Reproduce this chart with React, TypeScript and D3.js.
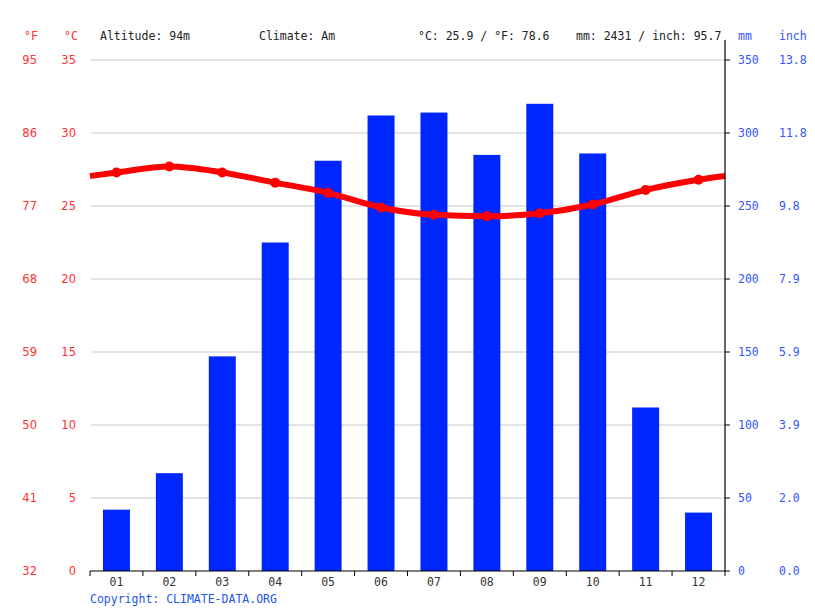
import React from 'react';
import * as d3 from 'd3';

const MONTHS = ['01', '02', '03', '04', '05', '06', '07', '08', '09', '10', '11', '12'];
const PRECIP_MM = [42, 67, 147, 225, 281, 312, 314, 285, 320, 286, 112, 40];
const TEMP_C = [27.3, 27.7, 27.3, 26.6, 25.9, 24.9, 24.4, 24.3, 24.5, 25.1, 26.1, 26.8];
const C_TICKS = [0, 5, 10, 15, 20, 25, 30, 35];
const F_LABELS = ['32', '41', '50', '59', '68', '77', '86', '95'];
const MM_TICKS = [0, 50, 100, 150, 200, 250, 300, 350];
const INCH_LABELS = ['0.0', '2.0', '3.9', '5.9', '7.9', '9.8', '11.8', '13.8'];

const W = 815;
const H = 611;
const M = { left: 90, right: 725, top: 60, bottom: 571 };
const MONO = '"DejaVu Sans Mono", monospace';
const SANS = '"DejaVu Sans", sans-serif';
const RED = '#ff0000';
const LRED = '#ff3030';
const BLUE = '#0026ff';
const LBLUE = '#3355ff';

export default function App() {
  const x = d3.scaleBand<string>().domain(MONTHS).range([M.left, M.right]).paddingInner(0).paddingOuter(0);
  const yC = d3.scaleLinear().domain([0, 35]).range([M.bottom, M.top]);
  const yMM = d3.scaleLinear().domain([0, 350]).range([M.bottom, M.top]);
  const bw = x.bandwidth() * 0.51;
  const cx = (m: string) => (x(m) as number) + x.bandwidth() / 2;

  // line runs out to the plot edges, edge value = mean of Dec and Jan
  const edge = (TEMP_C[0] + TEMP_C[11]) / 2;
  const pts: [number, number][] = [
    [M.left, yC(edge)],
    ...MONTHS.map((m, i) => [cx(m), yC(TEMP_C[i])] as [number, number]),
    [M.right, yC(edge)],
  ];
  const line = d3.line().curve(d3.curveMonotoneX)(pts) as string;

  return (
    <svg width={W} height={H} style={{ position: 'absolute', left: 0, top: 0, background: '#fff' }}>
      {/* grid */}
      {C_TICKS.slice(1).map(t => (
        <line key={t} x1={M.left + 1} x2={M.right} y1={yC(t)} y2={yC(t)} stroke="#c8c8c8" strokeWidth={1} />
      ))}

      {/* header */}
      <g fontFamily={MONO} fontSize={11.5}>
        <text x={24} y={40} fill={LRED}>°F</text>
        <text x={64} y={40} fill={LRED}>°C</text>
        <text x={100} y={40} fill="#222">Altitude: 94m</text>
        <text x={259} y={40} fill="#222">Climate: Am</text>
        <text x={418} y={40} fill="#222">°C: 25.9 / °F: 78.6</text>
        <text x={576} y={40} fill="#222">mm: 2431 / inch: 95.7</text>
        <text x={738} y={40} fill={LBLUE}>mm</text>
        <text x={779} y={40} fill={LBLUE}>inch</text>
      </g>

      {/* left labels */}
      <g fontFamily={SANS} fontSize={11.5} fill={LRED} textAnchor="end">
        {C_TICKS.map((t, i) => (
          <React.Fragment key={t}>
            <text x={37} y={yC(t) + 4}>{F_LABELS[i]}</text>
            <text x={76} y={yC(t) + 4}>{t}</text>
          </React.Fragment>
        ))}
      </g>

      {/* bars */}
      {MONTHS.map((m, i) => (
        <rect key={m} x={cx(m) - bw / 2} y={yMM(PRECIP_MM[i])} width={bw}
          height={M.bottom - yMM(PRECIP_MM[i])} fill={BLUE} />
      ))}

      {/* temperature */}
      <path d={line} fill="none" stroke={RED} strokeWidth={6} strokeLinejoin="round" />
      {MONTHS.map((m, i) => (
        <circle key={m} cx={cx(m)} cy={yC(TEMP_C[i])} r={5} fill={RED} />
      ))}

      {/* right axis */}
      <line x1={M.right} x2={M.right} y1={40} y2={M.bottom} stroke="#000" strokeWidth={1.2} />
      <g fontFamily={MONO} fontSize={11.5} fill={LBLUE}>
        {MM_TICKS.map((t, i) => (
          <React.Fragment key={t}>
            <line x1={M.right} x2={M.right + 5} y1={yMM(t)} y2={yMM(t)} stroke="#000" />
            <text x={738} y={yMM(t) + 4}>{t}</text>
            <text x={779} y={yMM(t) + 4}>{INCH_LABELS[i]}</text>
          </React.Fragment>
        ))}
      </g>

      {/* bottom axis */}
      <line x1={M.left} x2={M.right} y1={M.bottom} y2={M.bottom} stroke="#000" strokeWidth={1.2} />
      {[...MONTHS.map(m => x(m) as number), M.right].map((v, i) => (
        <line key={i} x1={v} x2={v} y1={M.bottom} y2={M.bottom + 5} stroke="#000" />
      ))}
      <g fontFamily={MONO} fontSize={11.5} fill="#333" textAnchor="middle">
        {MONTHS.map(m => (
          <text key={m} x={cx(m)} y={586}>{m}</text>
        ))}
      </g>
      <text x={90} y={603} fontFamily={MONO} fontSize={11.5} fill="#2255ee">Copyright: CLIMATE-DATA.ORG</text>
    </svg>
  );
}
